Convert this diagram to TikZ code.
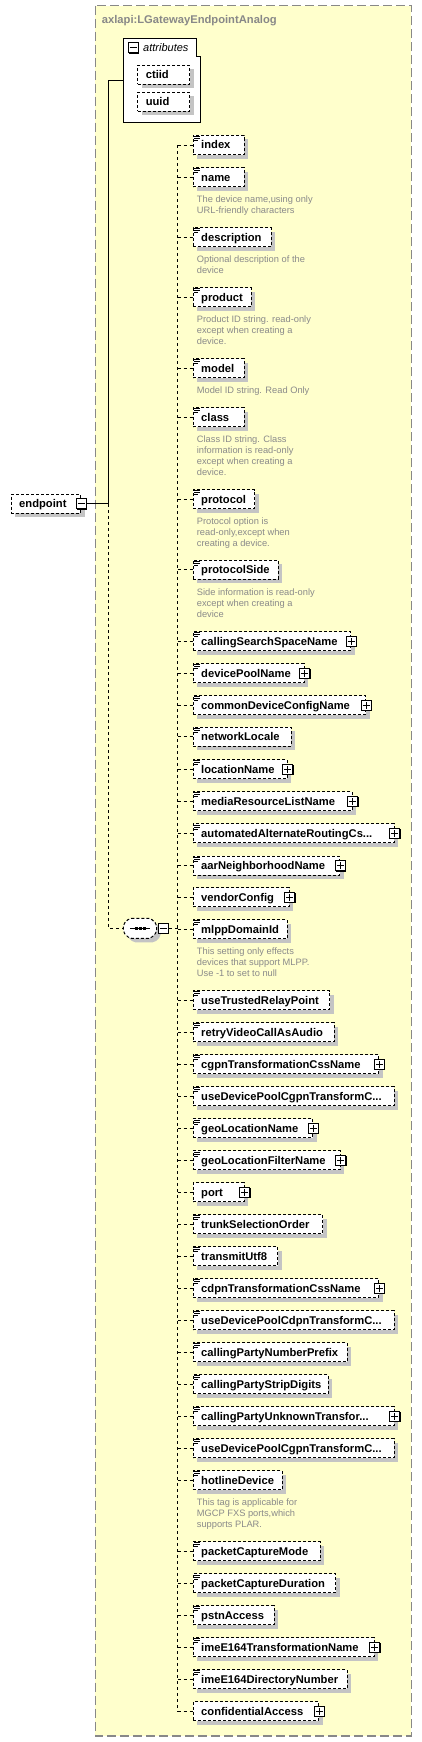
\documentclass[tikz,border=0pt]{standalone}
\usepackage{fontspec}
\setmainfont{Liberation Sans}
\usepackage{tikz}
\usetikzlibrary{shadows}

\definecolor{schemayellow}{HTML}{FFFFCC}
\definecolor{framegray}{HTML}{888888}
\definecolor{shadowgray}{HTML}{C4C4C4}
\definecolor{docgray}{HTML}{8A8A8A}

\newcommand{\elemfont}{\fontsize{11.2}{13}\selectfont\bfseries}
\newcommand{\docfont}{\fontsize{9.3}{11}\selectfont}
\lefthyphenmin=62

\begin{document}
\begin{tikzpicture}[x=1pt, y=-1pt]

	\tikzstyle{elem_box} = [draw=black, line width=1pt, dash pattern=on 3pt off 2pt, fill=white, anchor=west, minimum height=19pt, inner xsep=8pt, inner ysep=0pt, text height=8pt, text depth=0pt, align=left, font=\elemfont, drop shadow={shadow xshift=4pt, shadow yshift=-4pt, fill=shadowgray, opacity=1}]
	\tikzstyle{elem_simple} = [elem_box, path picture={\draw[solid, line width=0.9pt] ([xshift=1pt,yshift=-1.3pt]path picture bounding box.north west) -- ++(5.5pt,0pt) ([xshift=1pt,yshift=-3.3pt]path picture bounding box.north west) -- ++(5.5pt,0pt) ([xshift=1pt,yshift=-5.3pt]path picture bounding box.north west) -- ++(4pt,0pt);}]
	\tikzstyle{seq_box} = [minimum width=33.4pt, minimum height=20pt, inner sep=0pt]
	\tikzstyle{seq_outline} = [draw=black, fill=white, line width=1pt, dash pattern=on 3pt off 2pt, rounded corners=2pt]
	\tikzstyle{icon_base} = [draw=black, solid, line width=1pt, fill=white, minimum size=10pt, inner sep=0pt, drop shadow={shadow xshift=1pt, shadow yshift=-1pt, fill=black, opacity=1}]
	\tikzstyle{icon_minus} = [icon_base, path picture={\draw[line width=1pt] ([xshift=-3.5pt]path picture bounding box.center) -- ([xshift=3.5pt]path picture bounding box.center);}]
	\tikzstyle{icon_plus} = [icon_base, path picture={\draw[line width=1pt] ([xshift=-3.5pt]path picture bounding box.center) -- ([xshift=3.5pt]path picture bounding box.center) ([yshift=-3.5pt]path picture bounding box.center) -- ([yshift=3.5pt]path picture bounding box.center);}]
	\tikzstyle{doc_text} = [anchor=north west, inner sep=0pt, align=left, font=\docfont, text=docgray]
	\tikzstyle{tree_line} = [draw=black, line width=1pt]
	\tikzstyle{tree_dash} = [draw=black, line width=1pt, dash pattern=on 3pt off 3pt]

	\useasboundingbox (0,0) rectangle (422,1742);

%------------------------------------------------------------
	\draw[framegray, fill=schemayellow, line width=1.3pt, dash pattern=on 9pt off 4pt] (95.3,5.7) rectangle (411.3,1736);
	\node[anchor=base west, inner sep=0pt, font=\elemfont, text=framegray] (title) at (101.7,23.3) {axlapi:LGatewayEndpointAnalog};

%------------------------------------------------------------
	\node[minimum width=77pt, minimum height=84pt, inner sep=0pt] (attrs) at (161.8,80.3) {};
	\draw[tree_line, fill=white] (attrs.north west) -- ([xshift=-4pt]attrs.north east) -- ([xshift=-4pt,yshift=-18.4pt]attrs.north east) -- ([yshift=-18.4pt]attrs.north east) -- (attrs.south east) -- (attrs.south west) -- cycle;
	\node[icon_minus] (attrs_m) at (133,48) {};
	\node[anchor=base west, inner sep=0pt, font=\fontsize{11}{13}\selectfont\itshape] (attrs_label) at (143,51.7) {attributes};
	\node[elem_box, text width=35.7pt] (ctiid) at (137.3,75) {ctiid};
	\node[elem_box, text width=35.7pt] (uuid) at (137.3,102) {uuid};

%------------------------------------------------------------
	\node[elem_box, text width=53.3pt] (endpoint) at (10.7,503.8) {endpoint};
	\node[icon_minus] (endpoint_m) at (endpoint.east) {};

	\node[seq_box] (seq) at (140,928.3) {};
	\fill[shadowgray, shift={([xshift=4pt,yshift=-4pt]seq.center)}, rounded corners=2pt] (-10.7,-10) -- (10.7,-10) -- (16.7,-4) -- (16.7,4) -- (10.7,10) -- (-10.7,10) -- (-16.7,4) -- (-16.7,-4) -- cycle;
	\draw[seq_outline, shift={(seq.center)}] (-10.7,-10) -- (10.7,-10) -- (16.7,-4) -- (16.7,4) -- (10.7,10) -- (-10.7,10) -- (-16.7,4) -- (-16.7,-4) -- cycle;
	\draw[line width=1pt] ([xshift=-10pt]seq.center) -- ([xshift=10pt]seq.center);
	\fill ([xshift=-5.5pt,yshift=-1.6pt]seq.center) rectangle ([xshift=-2.5pt,yshift=1.6pt]seq.center);
	\fill ([xshift=-1.5pt,yshift=-1.6pt]seq.center) rectangle ([xshift=1.5pt,yshift=1.6pt]seq.center);
	\fill ([xshift=2.5pt,yshift=-1.6pt]seq.center) rectangle ([xshift=5.5pt,yshift=1.6pt]seq.center);
	\node[icon_minus, anchor=west] (seq_m) at ([xshift=1pt]seq.east) {};

	\coordinate (trunk) at (108.7,503.8);
	\coordinate (spine) at (177.7,928.3);

	\path[tree_line] (endpoint_m) edge (trunk);
	\draw[tree_line] (trunk) |- (attrs.west);
	\draw[tree_dash] (trunk) |- (seq.west);
	\draw[tree_dash] (seq_m) -- (spine);

%------------------------------------------------------------
	\node[elem_simple, text width=35pt] (index) at (192.7,145) {index};
	\node[elem_simple, text width=35pt] (name) at (192.7,177) {name};
	\node[doc_text] (name_doc) at (196.7,195.6) {The device name,using only\\URL-friendly characters};
	\node[elem_simple, text width=62pt] (description) at (192.7,237) {description};
	\node[doc_text] (description_doc) at (196.7,255.6) {Optional description of the\\device};
	\node[elem_simple, text width=42pt] (product) at (192.7,297) {product};
	\node[doc_text] (product_doc) at (196.7,315.9) {Product ID string. read-only\\except when creating a\\device.};
	\node[elem_simple, text width=35pt] (model) at (192.7,368) {model};
	\node[doc_text] (model_doc) at (196.7,386.6) {Model ID string. Read Only};
	\node[elem_simple, text width=35pt] (class) at (192.7,417) {class};
	\node[doc_text] (class_doc) at (196.7,435.6) {Class ID string. Class\\information is read-only\\except when creating a\\device.};
	\node[elem_simple, text width=45.3pt] (protocol) at (192.7,499) {protocol};
	\node[doc_text] (protocol_doc) at (196.7,517.6) {Protocol option is\\read-only,except when\\creating a device.};
	\node[elem_simple, text width=69pt] (protocolSide) at (192.7,569.7) {protocolSide};
	\node[doc_text] (protocolSide_doc) at (196.7,588.6) {Side information is read-only\\except when creating a\\device};
	\node[elem_simple, text width=141.3pt] (callingSearchSpaceName) at (192.7,641) {callingSearchSpaceName};
	\node[elem_simple, text width=95pt] (devicePoolName) at (192.7,673) {devicePoolName};
	\node[elem_simple, text width=156.3pt] (commonDeviceConfigName) at (192.7,705) {commonDeviceConfigName};
	\node[elem_simple, text width=82pt] (networkLocale) at (192.7,736.7) {networkLocale};
	\node[elem_simple, text width=78pt] (locationName) at (192.7,769) {locationName};
	\node[elem_simple, text width=143pt] (mediaResourceListName) at (192.7,801) {mediaResourceListName};
	\node[elem_simple, text width=185pt] (automatedAlternateRoutingCs) at (192.7,833.3) {automatedAlternateRoutingCs...};
	\node[elem_simple, text width=130.3pt] (aarNeighborhoodName) at (192.7,865.7) {aarNeighborhoodName};
	\node[elem_box, text width=80pt] (vendorConfig) at (192.7,897.3) {vendorConfig};
	\node[elem_simple, text width=78pt] (mlppDomainId) at (192.7,929) {mlppDomainId};
	\node[doc_text] (mlppDomainId_doc) at (196.7,947.2) {This setting only effects\\devices that support MLPP.\\Use -1 to set to null};
	\node[elem_simple, text width=120.3pt] (useTrustedRelayPoint) at (192.7,1000) {useTrustedRelayPoint};
	\node[elem_simple, text width=125pt] (retryVideoCallAsAudio) at (192.7,1032) {retryVideoCallAsAudio};
	\node[elem_simple, text width=169.6pt] (cgpnTransformationCssName) at (192.7,1064) {cgpnTransformationCssName};
	\node[elem_simple, text width=185pt] (useDevicePoolCgpnA) at (192.7,1096) {useDevicePoolCgpnTransformC...};
	\node[elem_simple, text width=103.6pt] (geoLocationName) at (192.7,1128.3) {geoLocationName};
	\node[elem_simple, text width=131pt] (geoLocationFilterName) at (192.7,1160.3) {geoLocationFilterName};
	\node[elem_box, text width=35pt] (port) at (192.7,1192.3) {port};
	\node[elem_simple, text width=113.3pt] (trunkSelectionOrder) at (192.7,1224) {trunkSelectionOrder};
	\node[elem_simple, text width=68.3pt] (transmitUtf8) at (192.7,1256) {transmitUtf8};
	\node[elem_simple, text width=169.6pt] (cdpnTransformationCssName) at (192.7,1288) {cdpnTransformationCssName};
	\node[elem_simple, text width=185pt] (useDevicePoolCdpn) at (192.7,1320) {useDevicePoolCdpnTransformC...};
	\node[elem_simple, text width=138pt] (callingPartyNumberPrefix) at (192.7,1352) {callingPartyNumberPrefix};
	\node[elem_simple, text width=119pt] (callingPartyStripDigits) at (192.7,1384) {callingPartyStripDigits};
	\node[elem_simple, text width=185pt] (callingPartyUnknown) at (192.7,1416) {callingPartyUnknownTransfor...};
	\node[elem_simple, text width=185pt] (useDevicePoolCgpnB) at (192.7,1448) {useDevicePoolCgpnTransformC...};
	\node[elem_simple, text width=73pt] (hotlineDevice) at (192.7,1480) {hotlineDevice};
	\node[doc_text] (hotlineDevice_doc) at (196.7,1498.2) {This tag is applicable for\\MGCP FXS ports,which\\supports PLAR.};
	\node[elem_simple, text width=111pt] (packetCaptureMode) at (192.7,1551) {packetCaptureMode};
	\node[elem_simple, text width=126.3pt] (packetCaptureDuration) at (192.7,1583.3) {packetCaptureDuration};
	\node[elem_simple, text width=65pt] (pstnAccess) at (192.7,1615) {pstnAccess};
	\node[elem_simple, text width=165pt] (imeE164TransformationName) at (192.7,1647) {imeE164TransformationName};
	\node[elem_simple, text width=138pt] (imeE164DirectoryNumber) at (192.7,1679) {imeE164DirectoryNumber};
	\node[elem_box, text width=109.3pt] (confidentialAccess) at (192.7,1711.3) {confidentialAccess};

%------------------------------------------------------------
	\node[icon_plus] (callingSearchSpaceName_p) at (callingSearchSpaceName.east) {};
	\node[icon_plus] (devicePoolName_p) at (devicePoolName.east) {};
	\node[icon_plus] (commonDeviceConfigName_p) at (commonDeviceConfigName.east) {};
	\node[icon_plus] (locationName_p) at (locationName.east) {};
	\node[icon_plus] (mediaResourceListName_p) at (mediaResourceListName.east) {};
	\node[icon_plus] (automatedAlternateRoutingCs_p) at (automatedAlternateRoutingCs.east) {};
	\node[icon_plus] (aarNeighborhoodName_p) at (aarNeighborhoodName.east) {};
	\node[icon_plus] (vendorConfig_p) at (vendorConfig.east) {};
	\node[icon_plus] (cgpnTransformationCssName_p) at (cgpnTransformationCssName.east) {};
	\node[icon_plus] (geoLocationName_p) at (geoLocationName.east) {};
	\node[icon_plus] (geoLocationFilterName_p) at (geoLocationFilterName.east) {};
	\node[icon_plus] (port_p) at (port.east) {};
	\node[icon_plus] (cdpnTransformationCssName_p) at (cdpnTransformationCssName.east) {};
	\node[icon_plus] (callingPartyUnknown_p) at (callingPartyUnknown.east) {};
	\node[icon_plus] (imeE164TransformationName_p) at (imeE164TransformationName.east) {};
	\node[icon_plus] (confidentialAccess_p) at (confidentialAccess.east) {};

%------------------------------------------------------------
	\draw[tree_dash] (spine |- index.west) -- (spine |- confidentialAccess.west);
	\path[tree_dash] (spine |- index.west) edge (index) (spine |- name.west) edge (name) (spine |- description.west) edge (description) (spine |- product.west) edge (product) (spine |- model.west) edge (model) (spine |- class.west) edge (class) (spine |- protocol.west) edge (protocol) (spine |- protocolSide.west) edge (protocolSide);
	\path[tree_dash] (spine |- callingSearchSpaceName.west) edge (callingSearchSpaceName) (spine |- devicePoolName.west) edge (devicePoolName) (spine |- commonDeviceConfigName.west) edge (commonDeviceConfigName) (spine |- networkLocale.west) edge (networkLocale) (spine |- locationName.west) edge (locationName) (spine |- mediaResourceListName.west) edge (mediaResourceListName);
	\path[tree_dash] (spine |- automatedAlternateRoutingCs.west) edge (automatedAlternateRoutingCs) (spine |- aarNeighborhoodName.west) edge (aarNeighborhoodName) (spine |- vendorConfig.west) edge (vendorConfig) (spine |- mlppDomainId.west) edge (mlppDomainId) (spine |- useTrustedRelayPoint.west) edge (useTrustedRelayPoint) (spine |- retryVideoCallAsAudio.west) edge (retryVideoCallAsAudio);
	\path[tree_dash] (spine |- cgpnTransformationCssName.west) edge (cgpnTransformationCssName) (spine |- useDevicePoolCgpnA.west) edge (useDevicePoolCgpnA) (spine |- geoLocationName.west) edge (geoLocationName) (spine |- geoLocationFilterName.west) edge (geoLocationFilterName) (spine |- port.west) edge (port) (spine |- trunkSelectionOrder.west) edge (trunkSelectionOrder) (spine |- transmitUtf8.west) edge (transmitUtf8);
	\path[tree_dash] (spine |- cdpnTransformationCssName.west) edge (cdpnTransformationCssName) (spine |- useDevicePoolCdpn.west) edge (useDevicePoolCdpn) (spine |- callingPartyNumberPrefix.west) edge (callingPartyNumberPrefix) (spine |- callingPartyStripDigits.west) edge (callingPartyStripDigits) (spine |- callingPartyUnknown.west) edge (callingPartyUnknown) (spine |- useDevicePoolCgpnB.west) edge (useDevicePoolCgpnB) (spine |- hotlineDevice.west) edge (hotlineDevice);
	\path[tree_dash] (spine |- packetCaptureMode.west) edge (packetCaptureMode) (spine |- packetCaptureDuration.west) edge (packetCaptureDuration) (spine |- pstnAccess.west) edge (pstnAccess) (spine |- imeE164TransformationName.west) edge (imeE164TransformationName) (spine |- imeE164DirectoryNumber.west) edge (imeE164DirectoryNumber) (spine |- confidentialAccess.west) edge (confidentialAccess);

\end{tikzpicture}
\end{document}
